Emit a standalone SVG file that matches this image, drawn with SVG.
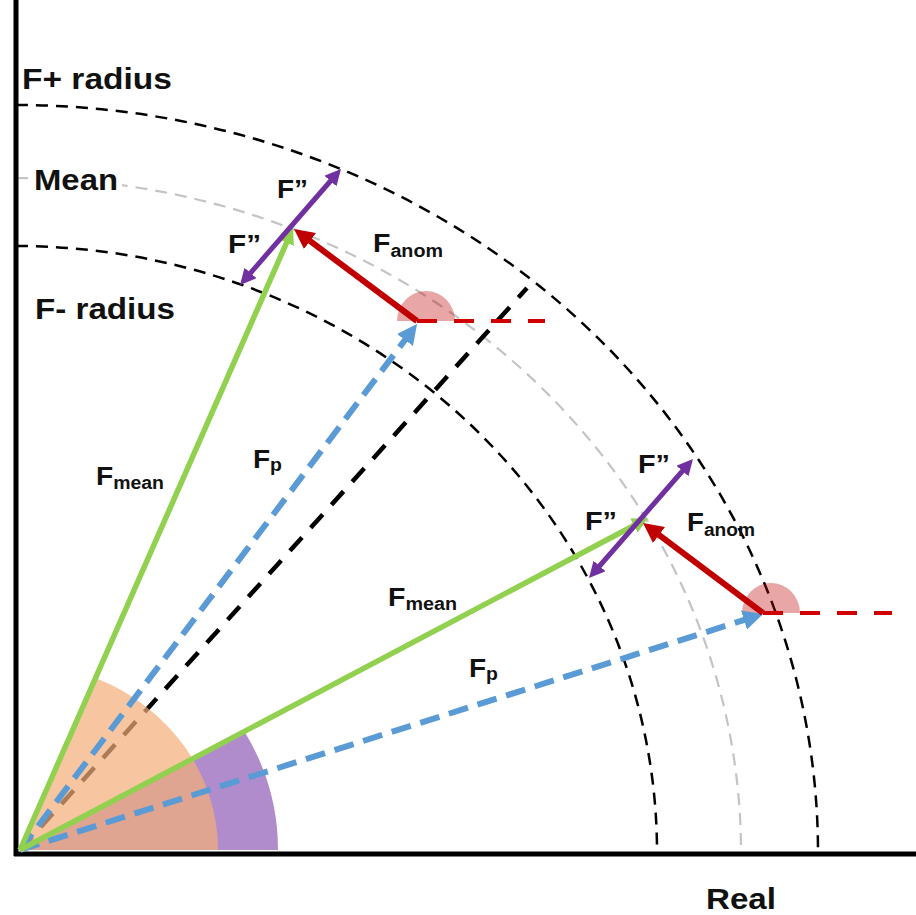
<svg xmlns="http://www.w3.org/2000/svg" width="916" height="915" viewBox="0 0 916 915">
<style>
.lbl{font-family:"Liberation Sans",Arial,sans-serif;font-weight:bold;fill:#111}
.big{font-size:30px}
.f{font-size:26px}
.sub{font-size:18px}
.arc{fill:none;stroke:#000;stroke-width:2.5;stroke-dasharray:12 8}
.arcm{fill:none;stroke:#c4c4c4;stroke-width:2.2;stroke-dasharray:12 8}
.diag{fill:none;stroke:#000;stroke-width:4.5;stroke-dasharray:18 13}
.fp{fill:none;stroke:#5b9bd5;stroke-width:6;stroke-dasharray:20 10}
.fm{fill:none;stroke:#92d050;stroke-width:5.5}
.fa{fill:none;stroke:#c00000;stroke-width:6}
.fdd{fill:none;stroke:#7030a0;stroke-width:5}
.ref{fill:none;stroke:#d00000;stroke-width:4;stroke-dasharray:20 17}
.ang{fill:#c00000;fill-opacity:0.35}
.axis{fill:none;stroke:#000;stroke-width:5}
</style>
<defs>
<marker id="ahG" viewBox="0 0 16 16" markerWidth="16" markerHeight="16" refX="6" refY="8" orient="auto" markerUnits="userSpaceOnUse"><path d="M0,0 L16,8 L0,16 z" fill="#92d050"/></marker>
<marker id="ahB" viewBox="0 0 20 20" markerWidth="20" markerHeight="20" refX="8" refY="10" orient="auto" markerUnits="userSpaceOnUse"><path d="M0,0 L20,10 L0,20 z" fill="#5b9bd5"/></marker>
<marker id="ahR" viewBox="0 0 20 20" markerWidth="20" markerHeight="20" refX="8" refY="10" orient="auto" markerUnits="userSpaceOnUse"><path d="M0,0 L20,10 L0,20 z" fill="#c00000"/></marker>
<marker id="ahP" viewBox="0 0 16 16" markerWidth="16" markerHeight="16" refX="6" refY="8" orient="auto-start-reverse" markerUnits="userSpaceOnUse"><path d="M0,0 L16,8 L0,16 z" fill="#7030a0"/></marker>
</defs>
<rect width="916" height="915" fill="#fff"/>

<g id="radius-arcs">
<path class="arc" d="M16,105 A802,747 0 0 1 818,852"/>
<path class="arcm" d="M16,178 A725,674 0 0 1 741,852"/>
<path class="arc" d="M16,246 A641,606 0 0 1 657,852"/>
</g>

<g id="diagonal">
<path class="diag" d="M20,850 L527,288"/>
</g>

<g id="angle-wedges">
<path d="M20,850 L278,850 A258,240 0 0 0 244.4,731.5 Z" fill="#b08ccc"/>
<path d="M20,850 L218,850 A198,186 0 0 0 95.5,678.1 Z" fill="#f4af79" fill-opacity="0.71"/>
</g>

<g id="axes">
<path class="axis" d="M16,0 L16,856"/>
<path class="axis" d="M14,854 L916,854"/>
</g>

<g id="phase-angles">
<path class="ang" d="M397,321 A29,30 0 0 1 455,321 Z"/>
<path class="ang" d="M742,613 A29,30 0 0 1 800,613 Z"/>
</g>

<g id="connectors">
<path class="ref" d="M417,321 L545,321"/>
<path class="ref" d="M763,613 L892,613"/>
<path class="fp" d="M20,850 L409.8,333.6" marker-end="url(#ahB)"/>
<path class="fp" d="M20,850 L751.6,617.6" marker-end="url(#ahB)"/>
<path class="fm" d="M20,850 L289,237.2" marker-end="url(#ahG)"/>
<path class="fm" d="M20,850 L639.2,522.7" marker-end="url(#ahG)"/>
<path class="fa" d="M417,321 L303.6,236.2" marker-end="url(#ahR)"/>
<path class="fa" d="M763,613 L652.6,530.2" marker-end="url(#ahR)"/>
<path class="fdd" d="M246.6,277.5 L334.4,176.5" marker-start="url(#ahP)" marker-end="url(#ahP)"/>
<path class="fdd" d="M595.6,570.5 L686.4,466.5" marker-start="url(#ahP)" marker-end="url(#ahP)"/>
</g>

<g id="axis-labels">
<text class="lbl big" x="22" y="89" textLength="150" lengthAdjust="spacingAndGlyphs">F+ radius</text>
<rect x="30" y="164" width="92" height="32" fill="#fff"/>
<text class="lbl big" x="34" y="190" textLength="84" lengthAdjust="spacingAndGlyphs">Mean</text>
<text class="lbl big" x="35" y="319" textLength="140" lengthAdjust="spacingAndGlyphs">F- radius</text>
<text class="lbl big" x="706" y="909" textLength="70" lengthAdjust="spacingAndGlyphs">Real</text>
</g>

<g id="vector-labels">
<text class="lbl f" x="96" y="485" textLength="68" lengthAdjust="spacingAndGlyphs">F<tspan class="sub" dy="4">mean</tspan></text>
<text class="lbl f" x="253" y="468" textLength="29" lengthAdjust="spacingAndGlyphs">F<tspan class="sub" dy="3">p</tspan></text>
<text class="lbl f" x="373" y="252" textLength="70" lengthAdjust="spacingAndGlyphs">F<tspan class="sub" dy="5">anom</tspan></text>
<text class="lbl f" x="277" y="198" textLength="31" lengthAdjust="spacingAndGlyphs">F”</text>
<text class="lbl f" x="228" y="253" textLength="33" lengthAdjust="spacingAndGlyphs">F”</text>
<text class="lbl f" x="388" y="606" textLength="69" lengthAdjust="spacingAndGlyphs">F<tspan class="sub" dy="4">mean</tspan></text>
<text class="lbl f" x="469" y="677" textLength="29" lengthAdjust="spacingAndGlyphs">F<tspan class="sub" dy="3">p</tspan></text>
<text class="lbl f" x="687" y="531" textLength="68" lengthAdjust="spacingAndGlyphs">F<tspan class="sub" dy="5">anom</tspan></text>
<text class="lbl f" x="638" y="473" textLength="32" lengthAdjust="spacingAndGlyphs">F”</text>
<text class="lbl f" x="585" y="530" textLength="32" lengthAdjust="spacingAndGlyphs">F”</text>
</g>
</svg>
